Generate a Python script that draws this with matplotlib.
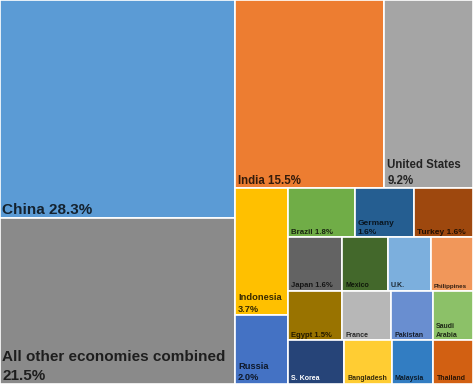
import matplotlib
matplotlib.use("Agg")
import matplotlib.pyplot as plt
from matplotlib.patches import Rectangle
from matplotlib.colors import to_rgb

# ---- data ----
names = ["China", "All other", "India", "United States", "Indonesia", "Russia",
         "Brazil", "Germany", "Turkey", "Japan", "Mexico", "U.K.", "Philippines",
         "Egypt", "France", "Pakistan", "Saudi Arabia", "S. Korea", "Bangladesh",
         "Malaysia", "Thailand"]
shares = [28.3, 21.5, 15.5, 9.2, 3.7, 2.0,
          1.8, 1.6, 1.6, 1.6, 1.35, 1.25, 1.25,
          1.5, 1.35, 1.15, 1.1, 1.35, 1.15,
          1.0, 0.95]
labels = ["China 28.3%", "All other economies combined\n21.5%", "India 15.5%",
          "United States\n9.2%", "Indonesia\n3.7%", "Russia\n2.0%",
          "Brazil 1.8%", "Germany\n1.6%", "Turkey 1.6%", "Japan 1.6%", "Mexico",
          "U.K.", "Philippines", "Egypt 1.5%", "France", "Pakistan",
          "Saudi\nArabia", "S. Korea", "Bangladesh", "Malaysia", "Thailand"]
colors = ["#5B9BD5", "#8A8A8A", "#ED7D31", "#A5A5A5", "#FFC000", "#4472C4",
          "#70AD47", "#255E91", "#9E480E", "#636363", "#43682B", "#7CAFDD",
          "#F1975A", "#997300", "#B7B7B7", "#698ED0", "#8CC168", "#264478",
          "#FFCD33", "#327DC2", "#D26012"]
fontsizes = [11, 11, 8.3, 8.3, 6.7, 6.7,
             5.7, 6, 6, 5.5, 5, 5, 4.5,
             5.5, 5, 5, 5, 5, 5, 5, 5]

value = dict(zip(names, shares))

# nested slice structure of the treemap: 'h' = side by side, 'v' = stacked
tree = ('h', [
    ('v', ["China", "All other"]),
    ('v', [
        ('h', ["India", "United States"]),
        ('h', [
            ('v', ["Indonesia", "Russia"]),
            ('v', [
                ('h', ["Brazil", "Germany", "Turkey"]),
                ('h', ["Japan", "Mexico", "U.K.", "Philippines"]),
                ('h', ["Egypt", "France", "Pakistan", "Saudi Arabia"]),
                ('h', ["S. Korea", "Bangladesh", "Malaysia", "Thailand"]),
            ]),
        ]),
    ]),
])


def total(node):
    if isinstance(node, str):
        return value[node]
    return sum(total(c) for c in node[1])


def layout(node, x, y, w, h, out):
    if isinstance(node, str):
        out[node] = (x, y, w, h)
        return
    d, children = node
    t = total(node)
    pos = 0.0
    for c in children:
        f = total(c) / t
        if d == 'h':
            layout(c, x + pos * w, y, f * w, h, out)
        else:
            layout(c, x, y + pos * h, w, f * h, out)
        pos += f


W, H = 473, 384
rects = {}
layout(tree, 0, 0, W, H, rects)

fig = plt.figure(figsize=(4.73, 3.84), dpi=100)
ax = fig.add_axes([0, 0, 1, 1])
ax.set_xlim(0, W)
ax.set_ylim(H, 0)
ax.axis("off")

family = ["Liberation Sans", "DejaVu Sans"]

for name, lab, col, fs in zip(names, labels, colors, fontsizes):
    x, y, w, h = rects[name]
    ax.add_patch(Rectangle((x, y), w, h, facecolor=col, edgecolor="white",
                           linewidth=1.2))
    r, g, b = to_rgb(col)
    tcol = (r * 0.22, g * 0.22, b * 0.22)
    if name == "S. Korea":
        tcol = "white"
    padx = 2 if fs > 10 else 3
    ax.text(x + padx, y + h - 1.5, lab, fontsize=fs, fontweight="bold",
            family=family, color=tcol, ha="left", va="bottom",
            linespacing=1.4)

fig.savefig("out.png", dpi=100)
